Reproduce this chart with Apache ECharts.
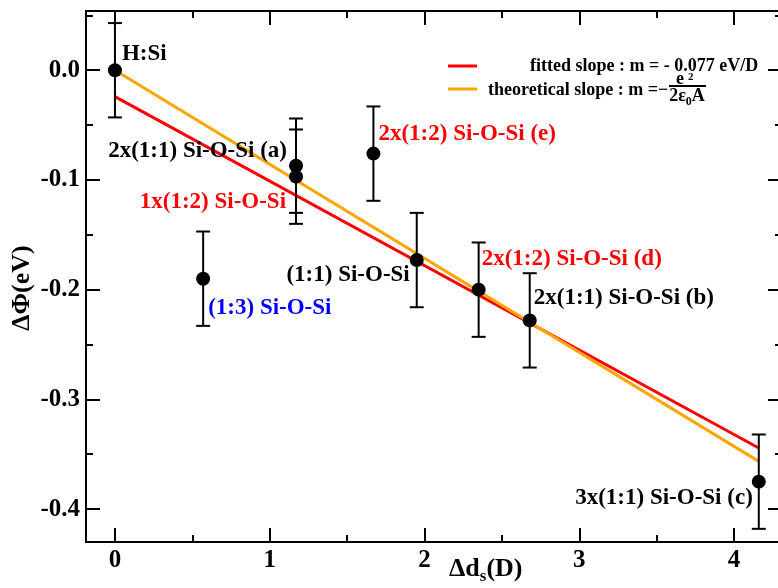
<!DOCTYPE html>
<html>
<head>
<meta charset="utf-8">
<script src="https://cdn.jsdelivr.net/npm/echarts@6/dist/echarts.min.js"></script>
<style>html,body{margin:0;padding:0;background:#fff;overflow:hidden;width:778px;height:588px}#c{width:792px;height:588px}</style>
</head>
<body>
<div id="c"></div>
<script>
// ---- data ----
const pointNames = ['H:Si','(1:3) Si-O-Si','2x(1:1) Si-O-Si (a)','1x(1:2) Si-O-Si','2x(1:2) Si-O-Si (e)','(1:1) Si-O-Si','2x(1:2) Si-O-Si (d)','2x(1:1) Si-O-Si (b)','3x(1:1) Si-O-Si (c)'];
const dsValues   = [0, 0.57, 1.17, 1.17, 1.67, 1.95, 2.35, 2.68, 4.16];
const dPhiValues = [0, -0.190, -0.087, -0.097, -0.076, -0.173, -0.200, -0.228, -0.375];
const dPhiErrors = [0.043, 0.043, 0.043, 0.043, 0.043, 0.043, 0.043, 0.043, 0.043];
const fitIntercept = -0.024;
const fitSlope = -0.077;
const theoryIntercept = 0;
const theorySlope = -0.0857;
const lineXRange = [0, 4.16];
const xTicks = [0, 1, 2, 3, 4];
const xMinorTicks = [0.5, 1.5, 2.5, 3.5];
const yTicks = [0, -0.1, -0.2, -0.3, -0.4];
const yTickLabels = ['0.0', '-0.1', '-0.2', '-0.3', '-0.4'];
const yMinorTicks = [0.05, -0.05, -0.15, -0.25, -0.35];
const xRange = [-0.187, 4.31];
const yRange = [-0.43, 0.054];

// ---- styles ----
const FONT = 'Liberation Serif';
const labelColors = ['#000','#0000ff','#000','#ff0000','#ff0000','#000','#ff0000','#000','#000'];
const labelPlacement = [
  {dx: 7, dy: -16, align: 'left'},
  {dx: 5, dy: 29, align: 'left'},
  {dx: -9, dy: -15, align: 'right'},
  {dx: -10, dy: 25, align: 'right'},
  {dx: 5, dy: -20, align: 'left'},
  {dx: -7, dy: 15, align: 'right'},
  {dx: 3, dy: -31, align: 'left'},
  {dx: 4, dy: -22, align: 'left'},
  {dx: -6, dy: 16, align: 'right'}
];

const points = dsValues.map((x, i) => [x, dPhiValues[i]]);
const errData = dsValues.map((x, i) => [x, dPhiValues[i] - dPhiErrors[i], dPhiValues[i] + dPhiErrors[i]]);
const labelData = dsValues.map((x, i) => [x, dPhiValues[i], i]);
const fitLine = lineXRange.map(x => [x, fitIntercept + fitSlope * x]);
const theoryLine = lineXRange.map(x => [x, theoryIntercept + theorySlope * x]);

const axisLine = {show: true, onZero: false, lineStyle: {color: '#000', width: 2}};
function xAx(pos, vals, len, showLabel) {
  return {
    type: 'value', position: pos, min: xRange[0], max: xRange[1],
    axisLine: axisLine,
    axisTick: {show: true, inside: true, length: len, lineStyle: {color: '#000', width: 2}, customValues: vals},
    axisLabel: showLabel ? {show: true, customValues: vals, color: '#000', fontFamily: FONT, fontWeight: 'bold', fontSize: 25, margin: 6} : {show: false},
    splitLine: {show: false}
  };
}
function yAx(pos, vals, len, showLabel) {
  return {
    type: 'value', position: pos, min: yRange[0], max: yRange[1],
    axisLine: axisLine,
    axisTick: {show: true, inside: true, length: len, lineStyle: {color: '#000', width: 2}, customValues: vals},
    axisLabel: showLabel ? {show: true, customValues: vals, color: '#000', fontFamily: FONT, fontWeight: 'bold', fontSize: 25, margin: 6,
      formatter: v => { const k = yTicks.findIndex(t => Math.abs(t - v) < 1e-9); return k >= 0 ? yTickLabels[k] : ''; }} : {show: false},
    splitLine: {show: false}
  };
}

const chart = echarts.init(document.getElementById('c'), null, {renderer: 'canvas'});
chart.setOption({
  animation: false,
  backgroundColor: '#fff',
  grid: {left: 86, top: 11, width: 696, height: 531, containLabel: false},
  xAxis: [
    xAx('bottom', xTicks, 14, true),
    xAx('bottom', xMinorTicks, 7, false),
    xAx('top', xTicks, 14, false),
    xAx('top', xMinorTicks, 7, false)
  ],
  yAxis: [
    yAx('left', yTicks, 14, true),
    yAx('left', yMinorTicks, 7, false),
    yAx('right', yTicks, 14, false),
    yAx('right', yMinorTicks, 7, false)
  ],
  series: [
    {type: 'line', data: fitLine, symbol: 'none', lineStyle: {color: '#ff0000', width: 3}, z: 2},
    {type: 'line', data: theoryLine, symbol: 'none', lineStyle: {color: '#ffa500', width: 3}, z: 2},
    {
      type: 'custom', data: errData, z: 3,
      renderItem: (params, api) => {
        const lo = api.coord([api.value(0), api.value(1)]);
        const hi = api.coord([api.value(0), api.value(2)]);
        const cw = 7;
        const st = {stroke: '#000', lineWidth: 2};
        return {type: 'group', children: [
          {type: 'line', shape: {x1: lo[0], y1: lo[1], x2: hi[0], y2: hi[1]}, style: st},
          {type: 'line', shape: {x1: lo[0] - cw, y1: lo[1], x2: lo[0] + cw, y2: lo[1]}, style: st},
          {type: 'line', shape: {x1: hi[0] - cw, y1: hi[1], x2: hi[0] + cw, y2: hi[1]}, style: st}
        ]};
      }
    },
    {type: 'scatter', data: points, symbol: 'circle', symbolSize: 14, itemStyle: {color: '#000', opacity: 1}, z: 4},
    {
      type: 'custom', data: labelData, z: 5,
      renderItem: (params, api) => {
        const i = api.value(2);
        const p = api.coord([api.value(0), api.value(1)]);
        const pl = labelPlacement[i];
        return {type: 'text', x: p[0] + pl.dx, y: p[1] + pl.dy,
          style: {text: pointNames[i], fill: labelColors[i], font: 'bold 23px "' + FONT + '"', align: pl.align, verticalAlign: 'middle'}};
      }
    }
  ],
  graphic: [
    {type: 'text', x: 22, y: 288, rotation: Math.PI / 2,
      style: {text: 'ΔΦ(eV)', font: 'bold 26px "' + FONT + '"', fill: '#000', align: 'center', verticalAlign: 'middle'}},
    {type: 'text', x: 449, y: 569,
      style: {rich: {m: {fontFamily: FONT, fontWeight: 'bold', fontSize: 26, fill: '#000'}, s: {fontFamily: FONT, fontWeight: 'bold', fontSize: 17, fill: '#000', padding: [16, 0, 0, 0]}},
        text: '{m|Δd}{s|s}{m|(D)}', align: 'left', verticalAlign: 'middle'}},
    {type: 'line', shape: {x1: 448, y1: 66, x2: 477, y2: 66}, style: {stroke: '#ff0000', lineWidth: 3}},
    {type: 'line', shape: {x1: 448, y1: 89, x2: 477, y2: 89}, style: {stroke: '#ffa500', lineWidth: 3}},
    {type: 'text', x: 530, y: 66,
      style: {text: 'fitted slope : m = - 0.077 eV/D', font: 'bold 18px "' + FONT + '"', fill: '#000', align: 'left', verticalAlign: 'middle'}},
    {type: 'text', x: 488, y: 90,
      style: {text: 'theoretical slope : m =−', font: 'bold 18px "' + FONT + '"', fill: '#000', align: 'left', verticalAlign: 'middle'}},
    {type: 'text', x: 676, y: 79,
      style: {text: 'e', font: 'bold 18px "' + FONT + '"', fill: '#000', align: 'left', verticalAlign: 'middle'}},
    {type: 'text', x: 688, y: 77,
      style: {text: '2', font: 'bold 11px "' + FONT + '"', fill: '#000', align: 'left', verticalAlign: 'middle'}},
    {type: 'line', shape: {x1: 669, y1: 86, x2: 706, y2: 86}, style: {stroke: '#000', lineWidth: 2}},
    {type: 'text', x: 687, y: 96,
      style: {rich: {a: {fontFamily: FONT, fontWeight: 'bold', fontSize: 18, fill: '#000'}, b: {fontFamily: FONT, fontWeight: 'bold', fontSize: 12, fill: '#000', padding: [12, 0, 0, 0]}},
        text: '{a|2ε}{b|0}{a|A}', align: 'center', verticalAlign: 'middle'}}
  ]
});
</script>
</body>
</html>
